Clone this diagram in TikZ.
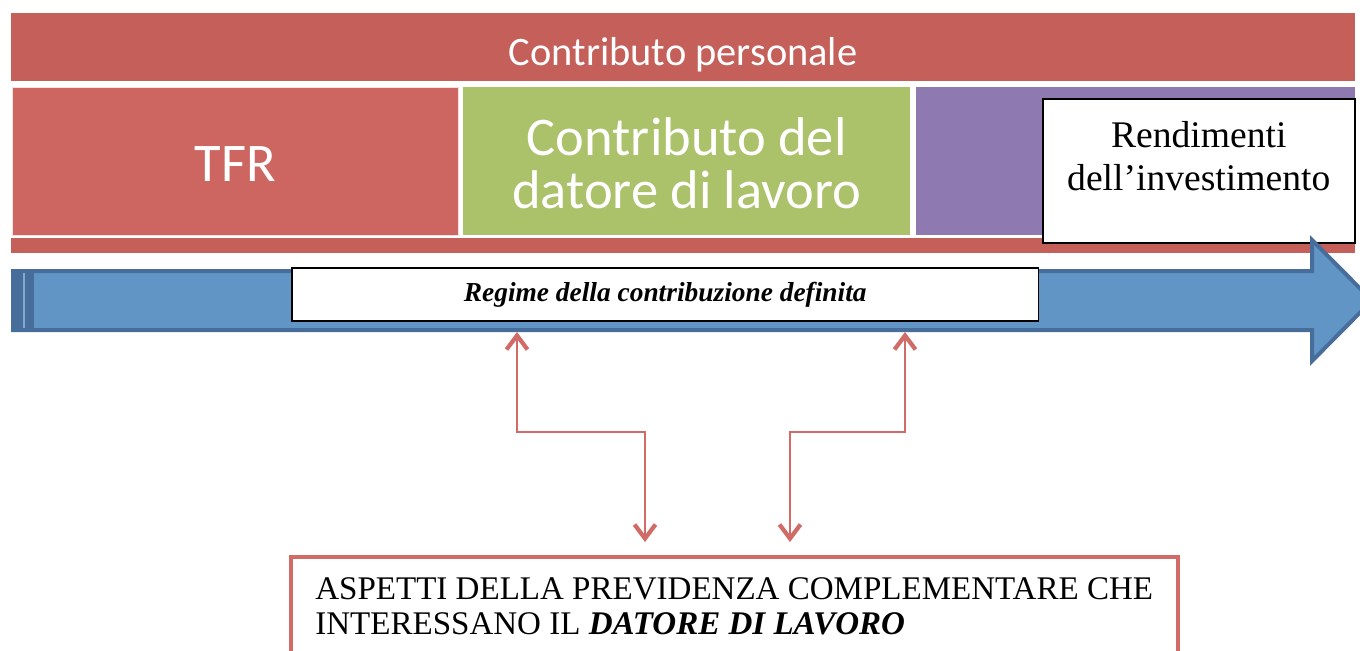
\documentclass[tikz,border=0pt]{standalone}
\usepackage{fontspec}
\setmainfont{Liberation Serif}
\newfontfamily\calibri{Carlito}
\usepackage{xcolor}
\definecolor{barred}{HTML}{C55F5A}
\definecolor{tfrred}{HTML}{CD6661}
\definecolor{leafgreen}{HTML}{ABC16A}
\definecolor{lavender}{HTML}{8F79B1}
\definecolor{arrowblue}{HTML}{6195C6}
\definecolor{arrowedge}{HTML}{476E9B}
\definecolor{linkred}{HTML}{D16B67}
\usepackage{tikz}
\usetikzlibrary{arrows.meta, positioning, calc}

\begin{document}
\begin{tikzpicture}[x=0.02cm, y=-0.02cm,
  block/.style={anchor=north west, inner sep=0pt, text=white, align=center,
    font=\calibri\fontsize{31}{30.5}\selectfont},
  whitebox/.style={anchor=north west, inner sep=0pt, fill=white, draw=black, line width=0.9pt},
  link/.style={draw=linkred, line width=1.1pt, <->,
    >={Straight Barb[length=0.28cm, width=0.42cm, line width=2.4pt]}}]
  \useasboundingbox (0,0) rectangle (1360,650);

  % Contribution blocks
  \node[block, fill=barred, minimum width=26.88cm, minimum height=1.36cm, text height=0.72cm, text depth=0pt,
    font=\calibri\fontsize{23}{26}\selectfont] (personale) at (11,13) {Contributo personale};
  \node[block, fill=tfrred, draw=white!80!tfrred, minimum width=8.92cm, minimum height=2.96cm,
    text height=1.1cm, text depth=0.3cm] (tfr) at (12,87) {TFR};
  \node[block, fill=leafgreen, minimum width=8.94cm, minimum height=2.96cm] (datore) at (463,87) {};
  \node[block, anchor=center] (datoretxt) at ($(datore.center)+(0,2)$) {Contributo del\\datore di lavoro};
  \node[block, fill=lavender, minimum width=8.78cm, minimum height=2.96cm] (rendimenti) at (916,87) {};
  \node[block, fill=barred, minimum width=26.88cm, minimum height=0.3cm] (strip) at (11,238) {};

  % Returns box
  \node[whitebox, minimum width=6.24cm, minimum height=2.88cm] (rendbox) at (1042,98) {};
  \node[below=0.46cm of rendbox.north, inner sep=0pt, align=center,
    font=\fontsize{21.4}{24.4}\selectfont] (rendtxt) {Rendimenti\\dell’investimento};

  % Time arrow
  \draw[fill=arrowblue, draw=arrowedge, line width=0.08cm, line join=miter]
    (13,271) -- (1312,271) -- (1312,240) -- (1372,300.5) -- (1312,361) -- (1312,330) -- (13,330) -- cycle;
  \fill[arrowedge] (13,271) rectangle (34,330);
  \draw[arrowblue!80!white, line width=0.04cm] (24,273) -- (24,328);
  \node[whitebox, minimum width=14.94cm, minimum height=1.06cm, text height=0.3cm, text depth=0.02cm,
    font=\bfseries\itshape\fontsize{15.6}{18}\selectfont] (regime) at (291,267) {Regime della contribuzione definita};

  % Employer box
  \node[anchor=north west, inner sep=0pt, fill=white, draw=linkred, line width=0.08cm,
    minimum width=17.74cm, minimum height=2.4cm] (aspetti) at (289,555) {};
  \node[anchor=north west, inner sep=0pt, align=left, font=\fontsize{18.8}{20}\selectfont]
    (aspettitxt) at (315,577) {ASPETTI DELLA PREVIDENZA COMPLEMENTARE CHE\\
    INTERESSANO IL \textbf{\textit{DATORE DI LAVORO}}};

  % Links
  \coordinate (tip1) at (517,332);
  \coordinate (tip2) at (905,332);
  \coordinate (foot1) at ($(aspetti.north west)+(356,-13)$);
  \coordinate (foot2) at ($(aspetti.north west)+(501,-13)$);
  \draw[link] (tip1) -- (517,432) -| (foot1);
  \draw[link] (tip2) -- (905,432) -| (foot2);
\end{tikzpicture}
\end{document}
